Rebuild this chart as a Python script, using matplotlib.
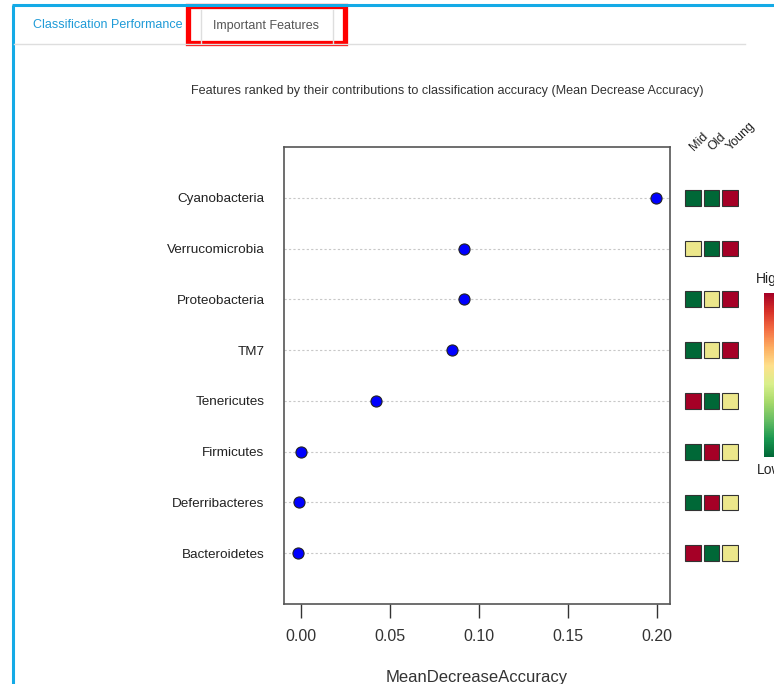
import numpy as np
import matplotlib
matplotlib.use('Agg')
import matplotlib.pyplot as plt
from matplotlib.patches import Rectangle
from matplotlib.colors import LinearSegmentedColormap, Normalize
from matplotlib.cm import ScalarMappable

plt.rcParams['font.family'] = ['Liberation Sans', 'DejaVu Sans']

# features, bottom to top
features = ['Bacteroidetes', 'Deferribacteres', 'Firmicutes', 'Tenericutes',
            'TM7', 'Proteobacteria', 'Verrucomicrobia', 'Cyanobacteria']
mda = [-0.0015, -0.001, 0.0002, 0.0421, 0.0849, 0.0918, 0.0918, 0.1992]

# relative group abundance (0 = low, 1 = high), same order as features
groups = ['Mid', 'Old', 'Young']
mid_vals = [1.0, 0.0, 0.0, 1.0, 0.0, 0.0, 0.5, 0.0]
old_vals = [0.0, 1.0, 1.0, 0.0, 0.5, 0.5, 0.0, 0.0]
young_vals = [0.5, 0.5, 0.5, 0.5, 1.0, 1.0, 1.0, 1.0]

xticks = [0.00, 0.05, 0.10, 0.15, 0.20]

W, H = 774, 684
fig = plt.figure(figsize=(W / 100, H / 100), dpi=100)


def px_axes(x0, y0, x1, y1, **kw):
    # axes from pixel box (top-left origin)
    return fig.add_axes([x0 / W, 1 - y1 / H, (x1 - x0) / W, (y1 - y0) / H], **kw)


# page chrome: blue panel border, tab bar
bg = px_axes(0, 0, W, H, zorder=0)
bg.set_xlim(0, W)
bg.set_ylim(H, 0)
bg.axis('off')
bg.plot([13, 13], [5, H], color='#14aae6', lw=2.2, solid_capstyle='butt')
bg.plot([12, W], [5, 5], color='#14aae6', lw=2.2, solid_capstyle='butt')
bg.plot([14, 745], [43.5, 43.5], color='#dedede', lw=1)
bg.plot([201, 201], [10, 43], color='#dedede', lw=1)
bg.plot([333, 333], [10, 43], color='#dedede', lw=1)
bg.text(33, 25.5, 'Classification Performance', color='#1f9bd7', fontsize=9,
        ha='left', va='center')
bg.text(266, 25.5, 'Important Features', color='#555555', fontsize=9,
        ha='center', va='center')
bg.add_patch(Rectangle((187.5, 5.5), 157, 37, fill=False, edgecolor='#ff0000', lw=3.8))
bg.text(447, 91, 'Features ranked by their contributions to classification accuracy '
        '(Mean Decrease Accuracy)', color='#333333', fontsize=9.1,
        ha='center', va='center')

# dot chart
ax = px_axes(284, 147, 670, 604)
y = np.arange(1, len(features) + 1)
for yi in y:
    ax.axhline(yi, color='#c8c8c8', lw=0.8, ls=(0, (2, 2)), zorder=1)
ax.plot(mda, y, 'o', color='#0000ff', markersize=8, markeredgecolor='#222222',
        markeredgewidth=0.8, zorder=3)
x0 = (284 - 300.7) / 1782
x1 = (670 - 300.7) / 1782
ax.set_xlim(x0, x1)
ax.set_ylim(0, len(features) + 1)
ax.set_yticks(y)
ax.set_yticklabels(features, fontsize=9.7, color='#222222')
ax.tick_params(axis='y', length=0, pad=14)
ax.set_xticks(xticks)
ax.set_xticklabels(['%.2f' % v for v in xticks], fontsize=11.5, color='#333333')
ax.tick_params(axis='x', length=10, width=1, color='#333333', pad=8)
ax.set_xlabel('MeanDecreaseAccuracy', fontsize=12, color='#333333', labelpad=19)
for s in ax.spines.values():
    s.set_color('#555555')
    s.set_linewidth(1.2)

# group heat squares
colors = ['#A50026', '#D73027', '#F46D43', '#FDAE61', '#FEE08B',
          '#D9EF8B', '#A6D96A', '#66BD63', '#1A9850', '#006837'][::-1]
cmap = LinearSegmentedColormap.from_list('rdylgn10', colors)
norm = Normalize(0, 1)

hax = px_axes(684, 147, 739, 604)
hax.set_xlim(0, 3)
hax.set_ylim(0, len(features) + 1)
hax.axis('off')
sw, sh = 0.856, 0.31
for j, vals in enumerate([mid_vals, old_vals, young_vals]):
    for yi, v in zip(y, vals):
        hax.add_patch(Rectangle((j + 0.5 - sw / 2, yi - sh / 2), sw, sh,
                                facecolor=cmap(norm(v)), edgecolor='#333333', lw=0.8))
    hax.text(j + 0.65, len(features) + 1 - 0.12, groups[j], rotation=45,
             rotation_mode='anchor', ha='left', va='bottom', fontsize=9,
             color='#222222', clip_on=False)

# colour key
cax = px_axes(764, 293, 778, 457)
cb = fig.colorbar(ScalarMappable(norm=norm, cmap=cmap), cax=cax)
cb.set_ticks([])
cb.outline.set_visible(False)
bg.text(756, 279, 'High', fontsize=10, ha='left', va='center', color='#222222')
bg.text(757, 470, 'Low', fontsize=10, ha='left', va='center', color='#222222')

fig.savefig('out.png', dpi=100, facecolor='white')
